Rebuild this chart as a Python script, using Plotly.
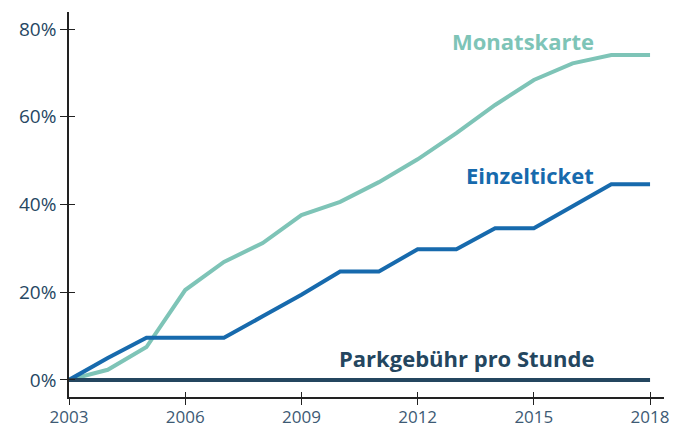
import plotly.graph_objects as go

years = list(range(2003, 2019))
monatskarte = [0, 2.3, 7.5, 20.5, 26.9, 31.2, 37.6, 40.6, 45.1, 50.3, 56.3, 62.7, 68.4, 72.2, 74.1, 74.1]
einzelticket = [0, 5.0, 9.6, 9.6, 9.6, 14.5, 19.4, 24.7, 24.7, 29.8, 29.8, 34.6, 34.6, 39.6, 44.6, 44.6]
parkgebuehr = [0] * 16

series_names = ["Monatskarte", "Einzelticket", "Parkgebühr pro Stunde"]
colors = ["#7ec4b7", "#176aad", "#24465f"]
label_y = [77.4, 46.7, 5.0]

x_ticks = [2003, 2006, 2009, 2012, 2015, 2018]
y_ticks = [0, 20, 40, 60, 80]
y_labels = [f"{v}%" for v in y_ticks]

x_range = [2003, 2018.36]
y_range = [-3.9, 83.9]

fig = go.Figure()
# invisible trace carrying the overlay axes (used for the inner half of the crossing ticks)
fig.add_trace(go.Scatter(x=years, y=parkgebuehr, mode="lines", xaxis="x2", yaxis="y2",
                         line=dict(width=0), opacity=0, hoverinfo="skip", showlegend=False))

data = [monatskarte, einzelticket, parkgebuehr]
for name, vals, col in zip(series_names, data, colors):
    fig.add_trace(go.Scatter(x=years, y=vals, mode="lines", name=name,
                             line=dict(color=col, width=4), cliponaxis=False))

for name, col, yv in zip(series_names, colors, label_y):
    fig.add_annotation(x=2016.6, y=yv, xref="x", yref="y", text=f"<b>{name}</b>",
                       showarrow=False, xanchor="right", yanchor="middle",
                       font=dict(family="Open Sans", size=22, color=col))

# the page body adds an 8px margin, so the figure is sized/offset to compensate
fig.update_layout(
    width=676, height=417,
    margin=dict(l=61, r=20, t=4, b=28, autoexpand=False),
    paper_bgcolor="white", plot_bgcolor="white",
    showlegend=False,
    xaxis=dict(range=x_range, tickvals=x_ticks, ticks="outside", ticklen=6,
               tickcolor="#222", showline=True, linecolor="#222", linewidth=1.5,
               showgrid=False, zeroline=False, automargin=False, ticklabelstandoff=-2,
               tickfont=dict(family="Open Sans", size=17, color="#3d5a74")),
    yaxis=dict(range=y_range, tickvals=y_ticks, ticktext=y_labels, ticks="outside", ticklen=7,
               tickcolor="#222", showline=True, linecolor="#222", linewidth=1.5,
               showgrid=False, zeroline=False, automargin=False,
               tickfont=dict(family="Open Sans", size=19, color="#264763")),
    xaxis2=dict(range=x_range, tickvals=x_ticks, ticks="inside", ticklen=5, tickcolor="#222",
                overlaying="x", anchor="y", side="bottom", showticklabels=False,
                showline=False, showgrid=False, zeroline=False, automargin=False),
    yaxis2=dict(range=y_range, tickvals=y_ticks, ticks="inside", ticklen=6, tickcolor="#222",
                overlaying="y", anchor="x", side="left", showticklabels=False,
                showline=False, showgrid=False, zeroline=False, automargin=False),
)

fig.write_html("out.html")
